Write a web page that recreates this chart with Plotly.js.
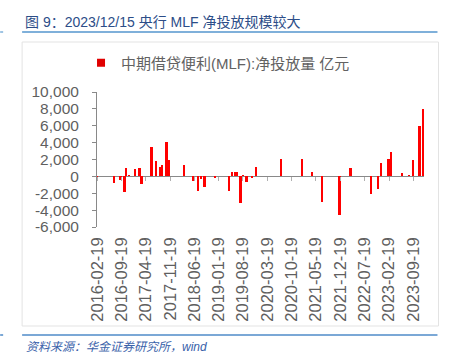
<!DOCTYPE html>
<html>
<head>
<meta charset="utf-8">
<script src="https://cdn.plot.ly/plotly-3.0.1.min.js"></script>
<style>html,body{margin:0;padding:0;background:#fff;}#chart{width:453px;height:353px;}</style>
</head>
<body>
<div id="chart"></div>
<script>
// ---- data (net MLF injection, 亿元) ----
const dates = [
  '2016-02-19','2016-07-15','2016-09-11','2016-10-14','2016-10-25','2016-11-23',
  '2017-01-14','2017-02-24','2017-03-14','2017-06-09','2017-07-20','2017-08-20',
  '2017-09-11','2017-10-18','2017-11-08','2018-03-19','2018-06-09','2018-07-18',
  '2018-08-18','2018-09-16','2018-12-15','2019-04-20','2019-05-16','2019-06-10',
  '2019-06-24','2019-07-28','2019-08-21','2019-09-18','2019-11-08','2019-12-10',
  '2020-07-17','2021-01-19','2021-04-16','2021-07-13','2021-12-11','2022-03-17',
  '2022-09-16','2022-11-13','2022-12-12','2023-02-14','2023-03-10','2023-06-14',
  '2023-08-15','2023-09-16','2023-11-12','2023-12-12'
];
const netInjection = [
  -600,-750,-400,-1800,1030,150,
  880,960,-940,3520,1820,1150,
  1310,4130,2000,1350,-500,-1750,
  -290,-1300,-250,-1750,480,480,
  480,-3100,150,-700,-230,1110,
  2060,2060,520,-3000,-4570,1030,
  -2050,-1530,1550,2060,2890,440,
  130,1980,5970,7950
];
const seriesName = '中期借贷便利(MLF):净投放量 亿元';
const yTickVals = [-6000,-4000,-2000,0,2000,4000,6000,8000,10000];
const yTickText = ['-6,000','-4,000','-2,000','0','2,000','4,000','6,000','8,000','10,000'];
const titleText = '图 9：2023/12/15 央行 MLF 净投放规模较大';
const sourceText = '资料来源：华金证券研究所，wind';

// ---- layout geometry ----
const W = 453, H = 353;
const M = {l: 97, r: 28.5, t: 92, b: 126};
const pw = W - M.l - M.r, ph = H - M.t - M.b;
const px2x = p => (p - M.l) / pw;
const px2y = p => (H - M.b - p) / ph;
const FONT = 'Liberation Sans, Arial, Noto Sans CJK SC, sans-serif';
const xRange = ['2016-02-17', '2023-12-22'];
const DAY = 86400000;

const traces = [
  {
    type: 'bar', x: dates, y: netInjection, name: seriesName,
    marker: {color: '#ff0000', line: {width: 0}},
    width: dates.map(() => 20 * DAY),
    showlegend: false, hoverinfo: 'x+y'
  },
  {
    type: 'scatter', mode: 'markers', x: [null], y: [null], name: seriesName,
    marker: {symbol: 'square', size: 8, color: '#e00000'}, showlegend: true
  },
  {
    type: 'scatter', x: [], y: [], xaxis: 'x2', yaxis: 'y', showlegend: false, hoverinfo: 'skip'
  }
];

const lineShape = (x0, y0, x1, y1, color, w) => ({
  type: 'line', xref: 'paper', yref: 'paper',
  x0: px2x(x0), x1: px2x(x1), y0: px2y(y0), y1: px2y(y1),
  line: {color: color, width: w}
});

const layout = {
  width: W, height: H,
  margin: M,
  paper_bgcolor: '#ffffff', plot_bgcolor: 'rgba(0,0,0,0)',
  font: {family: FONT, color: '#595959'},
  bargap: 0,
  showlegend: true,
  legend: {
    x: px2x(81), y: px2y(63), xanchor: 'left', yanchor: 'middle',
    bgcolor: 'rgba(0,0,0,0)', borderwidth: 0,
    font: {family: FONT, size: 15, color: '#626262'}
  },
  xaxis: {
    type: 'date', range: xRange, tick0: '2016-02-19', dtick: 'M7',
    tickformat: '%Y-%m-%d', tickangle: -90, ticks: '', ticklabelstandoff: 6,
    showline: false, showgrid: false, zeroline: false,
    tickfont: {family: FONT, size: 16.5, color: '#5f5f5f'}, fixedrange: true
  },
  xaxis2: {
    type: 'date', range: xRange, tick0: '2016-02-19', dtick: 'M7',
    overlaying: 'x', anchor: 'free', position: 6000 / 16000, side: 'bottom',
    ticks: 'outside', ticklen: 4, tickcolor: '#b0b0b0', tickwidth: 1,
    showticklabels: false, showline: false, showgrid: false, zeroline: false
  },
  yaxis: {
    range: [-6000, 10000], tickvals: yTickVals, ticktext: yTickText,
    ticks: 'outside', ticklen: 4, tickcolor: '#898989',
    showline: true, linecolor: '#898989', linewidth: 1,
    showgrid: false, zeroline: true, zerolinecolor: '#898989', zerolinewidth: 1,
    ticklabelstandoff: 10,
    tickfont: {family: FONT, size: 15.5, color: '#5f5f5f'}, fixedrange: true
  },
  shapes: [
    {type: 'rect', xref: 'paper', yref: 'paper',
     x0: px2x(22), x1: px2x(439), y0: px2y(42), y1: px2y(326),
     line: {color: '#e3e3e3', width: 1}, fillcolor: 'rgba(0,0,0,0)', layer: 'below'},
    lineShape(22, 32, 438, 32, '#7fb0da', 2),
    lineShape(0, 32, 3, 32, '#7fb0da', 1.5),
    lineShape(22, 335, 438, 335, '#4f8bc9', 1.5),
    lineShape(0, 335, 3, 335, '#4f8bc9', 1.5)
  ],
  annotations: [
    {text: titleText, xref: 'paper', yref: 'paper', x: px2x(23), y: px2y(22),
     xanchor: 'left', yanchor: 'middle', showarrow: false,
     font: {family: FONT, size: 14, color: '#2c4d88'}},
    {text: '<i>' + sourceText + '</i>', xref: 'paper', yref: 'paper', x: px2x(24), y: px2y(347),
     xanchor: 'left', yanchor: 'middle', showarrow: false,
     font: {family: FONT, size: 12, color: '#3a62aa'}}
  ]
};

Plotly.newPlot('chart', traces, layout, {displayModeBar: false, staticPlot: true});
</script>
</body>
</html>
